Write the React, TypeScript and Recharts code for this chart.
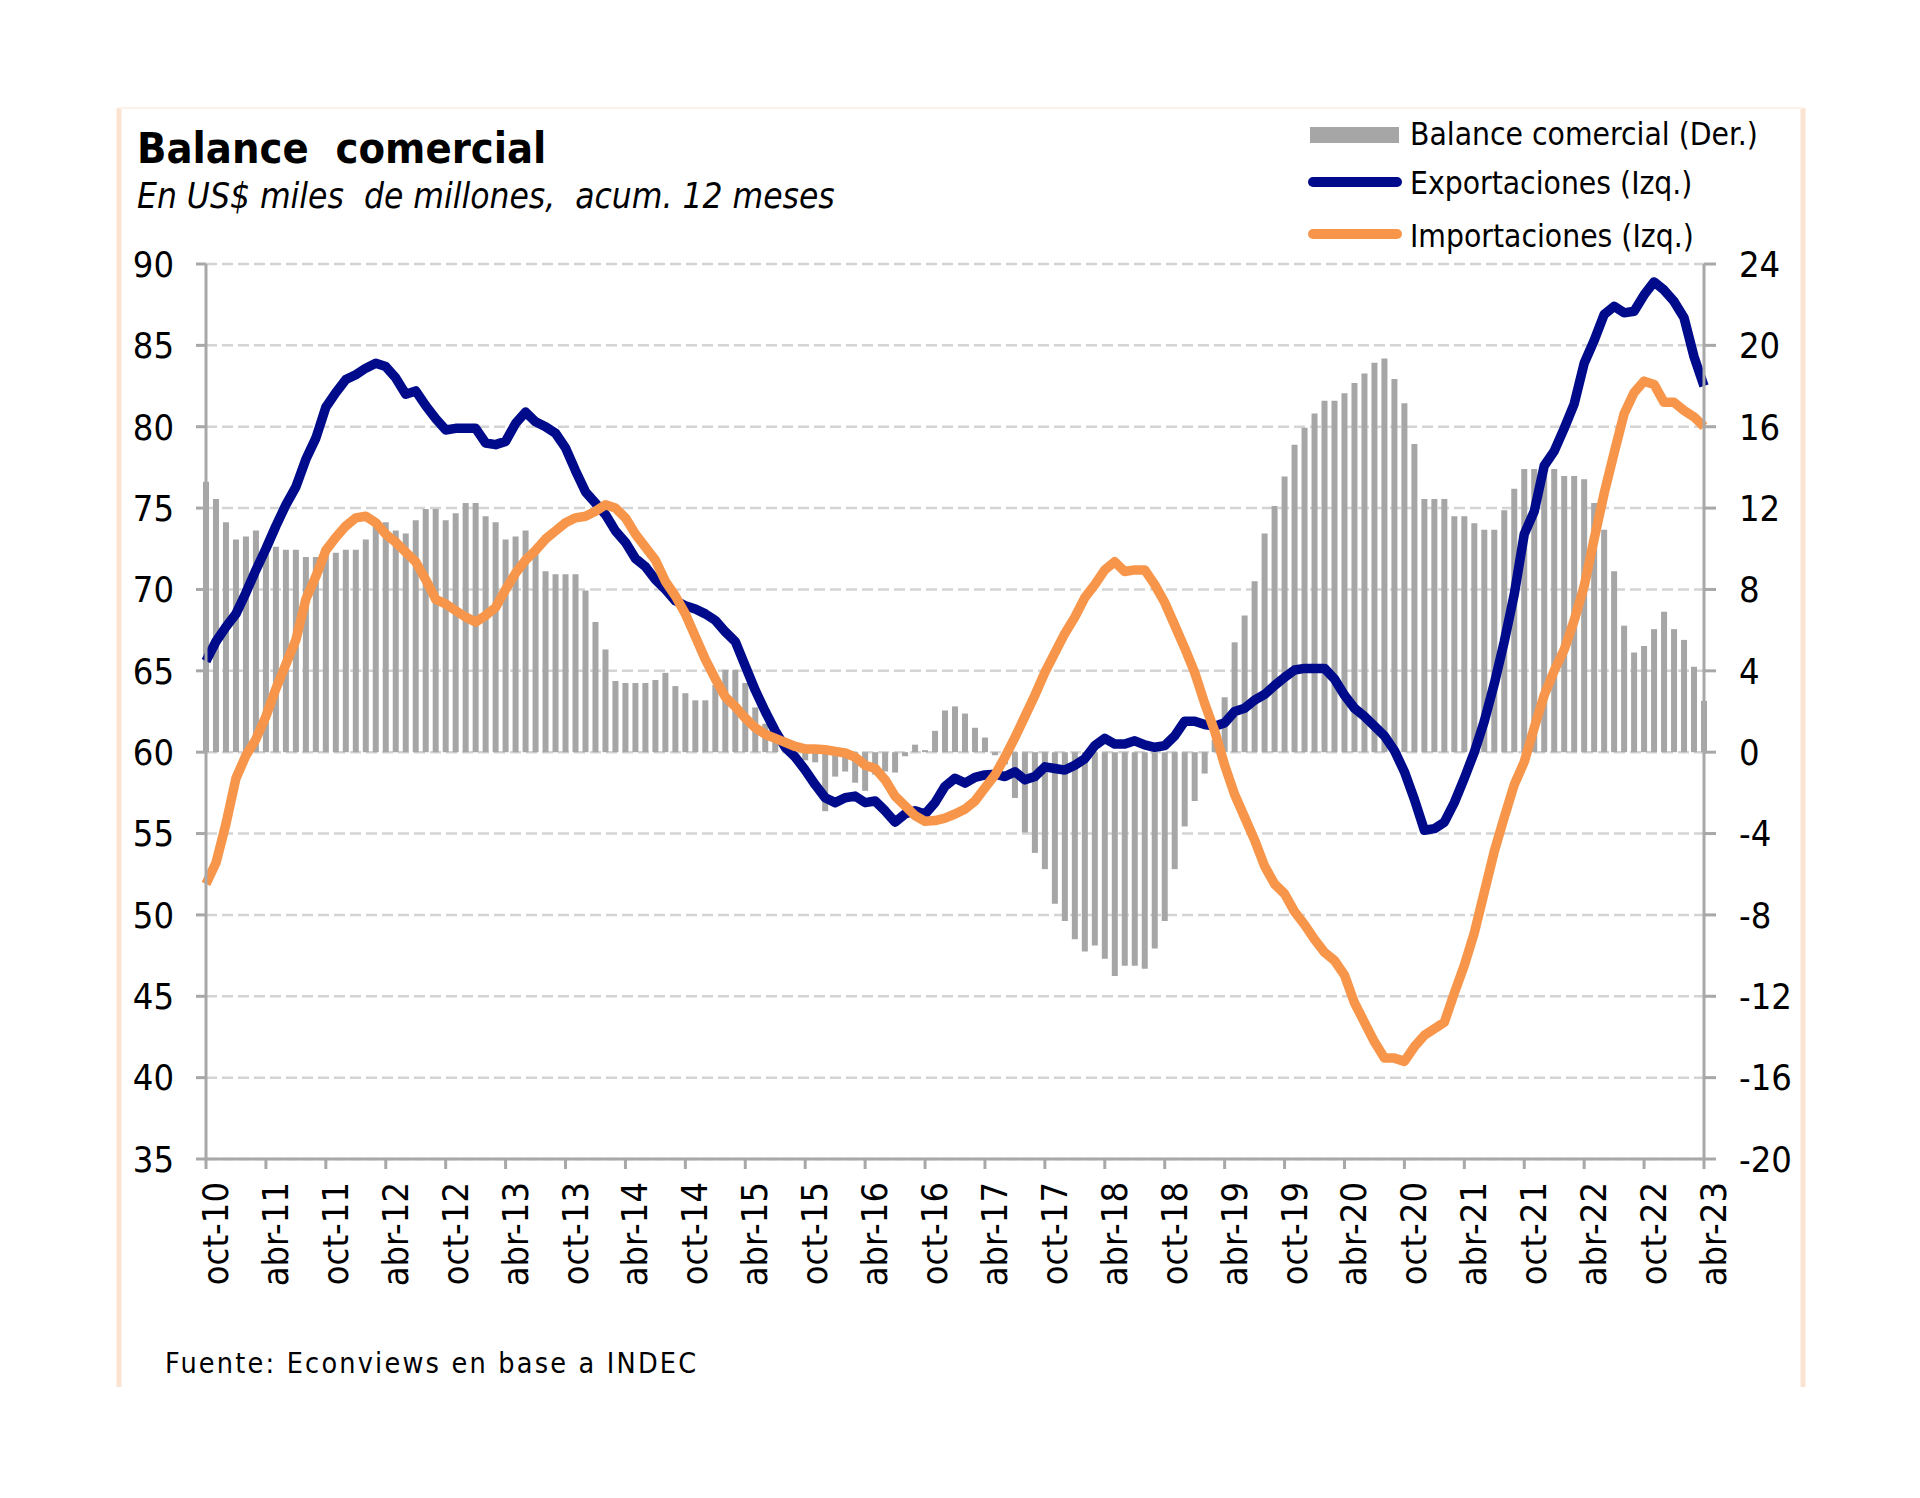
import React from 'react'
import { ComposedChart, Bar, Line, XAxis, YAxis, CartesianGrid } from 'recharts'

const FONT = "'DejaVu Sans Condensed', 'DejaVu Sans', sans-serif"

const tickLabels = [
  'oct-10', 'abr-11', 'oct-11', 'abr-12', 'oct-12', 'abr-13', 'oct-13', 'abr-14', 'oct-14',
  'abr-15', 'oct-15', 'abr-16', 'oct-16', 'abr-17', 'oct-17', 'abr-18', 'oct-18', 'abr-19',
  'oct-19', 'abr-20', 'oct-20', 'abr-21', 'oct-21', 'abr-22', 'oct-22', 'abr-23',
]
const leftTicks = [35, 40, 45, 50, 55, 60, 65, 70, 75, 80, 85, 90]
const rightTicks = [-20, -16, -12, -8, -4, 0, 4, 8, 12, 16, 20, 24]

// monthly, oct-10 .. abr-23 (one row per calendar year)
const balanceComercial = [
  13.3, 12.45, 11.3,
  10.45, 10.6, 10.9, 10.2, 10.1, 9.95, 9.95, 9.6, 9.6, 9.8, 9.8, 9.95,
  9.95, 10.45, 11.2, 11.3, 10.9, 10.75, 11.4, 11.95, 11.95, 11.4, 11.75, 12.25,
  12.25, 11.6, 11.3, 10.45, 10.6, 10.9, 10.0, 8.9, 8.75, 8.75, 8.75, 7.95,
  6.4, 5.05, 3.5, 3.4, 3.4, 3.4, 3.55, 3.9, 3.25, 2.9, 2.55, 2.55,
  3.3, 4.05, 4.05, 3.4, 2.2, 1.4, 0.7, 0.2, -0.2, -0.4, -0.5, -2.9,
  -1.2, -0.95, -1.5, -1.9, -1.1, -0.95, -1.0, -0.2, 0.37, 0.1, 1.05, 2.05,
  2.25, 1.9, 1.2, 0.72, -0.15, -0.6, -2.25, -3.95, -4.95, -5.75, -7.45, -8.3,
  -9.2, -9.8, -9.5, -10.15, -11.0, -10.5, -10.5, -10.65, -9.65, -8.3, -5.75, -3.65,
  -2.4, -1.05, 0.6, 2.7, 5.4, 6.72, 8.4, 10.75, 12.1, 13.55, 15.12, 15.95,
  16.65, 17.28, 17.28, 17.65, 18.15, 18.62, 19.15, 19.35, 18.35, 17.15, 15.15, 12.45,
  12.45, 12.45, 11.6, 11.6, 11.25, 10.93, 10.93, 11.9, 12.95, 13.92, 13.92, 13.92,
  13.92, 13.58, 13.58, 13.42, 12.25, 10.93, 8.9, 6.22, 4.9, 5.22, 6.05, 6.9,
  6.05, 5.52, 4.2, 2.52,
]

const exportaciones = [
  65.6, 66.8, 67.7,
  68.5, 69.8, 71.2, 72.5, 73.9, 75.2, 76.3, 78.0, 79.3, 81.2, 82.1, 82.9,
  83.2, 83.6, 83.9, 83.7, 83.0, 82.0, 82.2, 81.3, 80.5, 79.8, 79.9, 79.9,
  79.9, 79.0, 78.9, 79.1, 80.2, 80.9, 80.3, 80.0, 79.6, 78.7, 77.3, 76.0,
  75.3, 74.6, 73.6, 72.9, 71.9, 71.4, 70.6, 70.0, 69.3, 69.0, 68.8, 68.5,
  68.1, 67.4, 66.8, 65.3, 63.8, 62.5, 61.3, 60.3, 59.7, 58.9, 58.0, 57.2,
  56.9, 57.2, 57.3, 56.9, 57.0, 56.4, 55.7, 56.2, 56.4, 56.2, 56.9, 57.9,
  58.4, 58.1, 58.45, 58.6, 58.65, 58.5, 58.8, 58.3, 58.5, 59.1, 59.0, 58.9,
  59.2, 59.6, 60.4, 60.85, 60.5, 60.5, 60.7, 60.45, 60.3, 60.4, 61.0, 61.9,
  61.9, 61.7, 61.6, 61.8, 62.5, 62.7, 63.2, 63.55, 64.1, 64.6, 65.05, 65.15,
  65.15, 65.15, 64.5, 63.5, 62.7, 62.2, 61.6, 61.0, 60.1, 58.8, 57.1, 55.2,
  55.3, 55.7, 56.9, 58.4, 60.0, 61.9, 64.2, 66.8, 69.7, 73.4, 74.8, 77.6,
  78.5, 79.9, 81.4, 83.9, 85.3, 86.9, 87.4, 87.0, 87.1, 88.1, 88.9, 88.4,
  87.7, 86.7, 84.3, 82.5,
]

const importaciones = [
  51.9, 53.2, 55.6,
  58.4, 59.8, 60.8, 62.2, 63.9, 65.4, 66.9, 69.4, 70.8, 72.4, 73.2, 73.9,
  74.4, 74.5, 74.1, 73.4, 72.9, 72.3, 71.7, 70.6, 69.4, 69.1, 68.7, 68.3,
  68.0, 68.4, 68.9, 70.0, 71.0, 71.8, 72.4, 73.1, 73.6, 74.1, 74.4, 74.5,
  74.8, 75.2, 75.0, 74.4, 73.4, 72.6, 71.8, 70.5, 69.6, 68.5, 67.1, 65.7,
  64.5, 63.4, 62.8, 62.1, 61.5, 61.1, 60.85, 60.6, 60.35, 60.2, 60.2, 60.15,
  60.05, 59.95, 59.7, 59.2, 59.0, 58.3, 57.3, 56.7, 56.1, 55.75, 55.8, 55.95,
  56.2, 56.5, 57.0, 57.8, 58.6, 59.7, 60.9, 62.2, 63.5, 64.9, 66.1, 67.3,
  68.3, 69.5, 70.3, 71.2, 71.7, 71.1, 71.2, 71.2, 70.3, 69.2, 67.8, 66.4,
  64.9, 63.0, 61.3, 59.2, 57.4, 56.0, 54.6, 53.0, 51.9, 51.3, 50.2, 49.4,
  48.5, 47.7, 47.2, 46.3, 44.6, 43.4, 42.2, 41.2, 41.2, 41.0, 41.9, 42.6,
  43.0, 43.4, 45.2, 46.9, 48.9, 51.4, 53.9, 56.0, 58.0, 59.4, 61.5, 63.5,
  65.0, 66.3, 68.1, 70.2, 73.1, 75.9, 78.4, 80.8, 82.1, 82.8, 82.6, 81.5,
  81.5, 81.0, 80.6, 80.0,
]

const GRAY = '#A6A6A6'
const BLUE = '#000B8C'
const ORANGE = '#F7964A'
const AXIS = '#A8A8A8'

const data = balanceComercial.map((b, i) => ({
  i,
  balance: b,
  exportaciones: exportaciones[i],
  importaciones: importaciones[i],
}))

const xTicks = tickLabels.map((_, k) => k * 6)

function MonthTick({ x, y, payload }: any) {
  return (
    <text
      transform={`translate(${x},${y}) rotate(-90)`}
      textAnchor="end"
      dy={22}
      fontSize={36}
      fontFamily={FONT}
      fill="#000"
    >
      {tickLabels[Math.round(payload.value / 6)]}
    </text>
  )
}

export default function App() {
  const tickFont = { fontSize: 36, fontFamily: FONT, fill: '#000' }
  return (
    <div style={{ position: 'absolute', left: 0, top: 0, width: 1920, height: 1498, background: '#fff' }}>
      <ComposedChart
        width={1920}
        height={1498}
        data={data}
        margin={{ top: 264, right: 146, bottom: 189, left: 136 }}
      >
        <CartesianGrid
          yAxisId="left"
          vertical={false}
          stroke="#D4D4D4"
          strokeWidth={2.5}
          strokeDasharray="11 5"
        />
        <XAxis
          dataKey="i"
          type="number"
          domain={[0, 150]}
          ticks={xTicks}
          height={150}
          tickSize={10}
          tickMargin={13}
          axisLine={{ stroke: AXIS, strokeWidth: 3 }}
          tickLine={{ stroke: AXIS, strokeWidth: 3 }}
          tick={<MonthTick />}
        />
        <YAxis
          yAxisId="left"
          domain={[35, 90]}
          ticks={leftTicks}
          width={70}
          tickSize={10}
          tickMargin={22}
          axisLine={{ stroke: AXIS, strokeWidth: 3 }}
          tickLine={{ stroke: AXIS, strokeWidth: 3 }}
          tick={tickFont}
        />
        <YAxis
          yAxisId="right"
          orientation="right"
          domain={[-20, 24]}
          ticks={rightTicks}
          width={70}
          tickSize={12}
          tickMargin={23}
          axisLine={{ stroke: AXIS, strokeWidth: 3 }}
          tickLine={{ stroke: AXIS, strokeWidth: 3 }}
          tick={tickFont}
        />
        <Bar yAxisId="right" dataKey="balance" fill={GRAY} barSize={6} isAnimationActive={false} />
        <Line
          yAxisId="left"
          dataKey="exportaciones"
          type="linear"
          stroke={BLUE}
          strokeWidth={9.5}
          strokeLinejoin="round"
          dot={false}
          isAnimationActive={false}
        />
        <Line
          yAxisId="left"
          dataKey="importaciones"
          type="linear"
          stroke={ORANGE}
          strokeWidth={9.5}
          strokeLinejoin="round"
          dot={false}
          isAnimationActive={false}
        />
      </ComposedChart>

      <svg
        width={1920}
        height={1498}
        style={{ position: 'absolute', left: 0, top: 0, pointerEvents: 'none' }}
        fontFamily={FONT}
      >
        {/* frame */}
        <line x1={119} y1={108} x2={119} y2={1387} stroke="#FBE3D2" strokeWidth={5} />
        <line x1={1803} y1={108} x2={1803} y2={1387} stroke="#FBE3D2" strokeWidth={5} />
        <line x1={119} y1={108} x2={1803} y2={108} stroke="#FDF2EA" strokeWidth={2} />

        <text x={137} y={163} fontSize={43} fontWeight="bold" fill="#000" style={{ whiteSpace: 'pre' }}>
          Balance  comercial
        </text>
        <text x={137} y={208} fontSize={35} fontStyle="italic" fill="#000" style={{ whiteSpace: 'pre' }}>
          En US$ miles  de millones,  acum. 12 meses
        </text>

        {/* legend */}
        <rect x={1310} y={127} width={89} height={16} fill={GRAY} />
        <text x={1410} y={145} fontSize={31.5} fill="#000">Balance comercial (Der.)</text>
        <line x1={1313} y1={182} x2={1397} y2={182} stroke={BLUE} strokeWidth={10} strokeLinecap="round" />
        <text x={1410} y={194} fontSize={31.5} fill="#000">Exportaciones (Izq.)</text>
        <line x1={1313} y1={234} x2={1397} y2={234} stroke={ORANGE} strokeWidth={10} strokeLinecap="round" />
        <text x={1410} y={247} fontSize={31.5} fill="#000">Importaciones (Izq.)</text>

        <text x={165} y={1373} fontSize={28.5} fill="#000" letterSpacing={2.2}>
          Fuente: Econviews en base a INDEC
        </text>
      </svg>
    </div>
  )
}
